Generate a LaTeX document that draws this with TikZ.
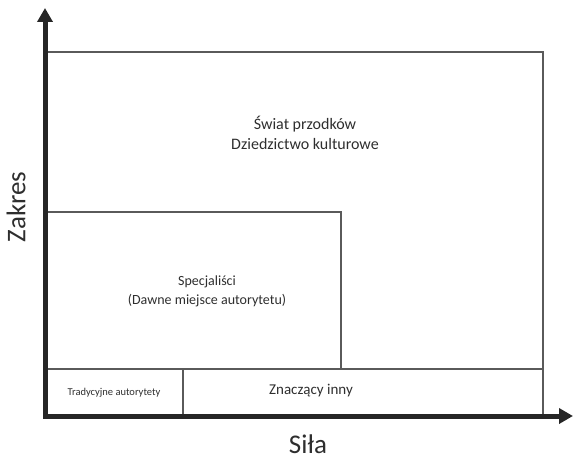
\documentclass[tikz,border=0pt]{standalone}
\usepackage{fontspec}
\setmainfont{Carlito}
\usetikzlibrary{arrows.meta}
\definecolor{axiscol}{HTML}{262626}
\definecolor{boxcol}{HTML}{5A5A5A}
\definecolor{txtcol}{HTML}{2E2E2E}
\begin{document}
\begin{tikzpicture}[x=1pt,y=1pt,
  boxline/.style={draw=boxcol,line width=1.1pt},
  axisline/.style={draw=axiscol,line width=5pt,-{Triangle[width=15pt,length=14pt]}},
  lbl/.style={text=txtcol,align=center,inner sep=0pt}]
\useasboundingbox (0,0) rectangle (573,459);
% boxes
\draw[boxline] (45,44) rectangle (543,407);
\draw[boxline] (45,90) rectangle (341,247);
\draw[boxline] (45,44) rectangle (543,90);
\draw[boxline] (183,44) -- (183,90);
% axes
\coordinate (o) at (45,43);
\coordinate (ytip) at (45,451);
\coordinate (xtip) at (573,43);
\draw[axisline] (45,41) -- (ytip);
\draw[axisline] (43,43) -- (xtip);
% labels
\node[lbl,font=\fontsize{16}{20}\selectfont] (swiat) at (305,326) {Świat przodków\\Dziedzictwo kulturowe};
\node[lbl,font=\fontsize{14}{19}\selectfont] (spec) at (207,168) {Specjaliści\\(Dawne miejsce autorytetu)};
\node[lbl,font=\fontsize{10.5}{12}\selectfont] (trad) at (114,66) {Tradycyjne autorytety};
\node[lbl,font=\fontsize{15}{18}\selectfont] (znacz) at (311,68) {Znaczący inny};
\node[lbl,font=\fontsize{27}{30}\selectfont,rotate=90] (zakres) at (16,252) {Zakres};
\node[lbl,font=\fontsize{27}{30}\selectfont] (sila) at (308,15) {Siła};
\end{tikzpicture}
\end{document}
